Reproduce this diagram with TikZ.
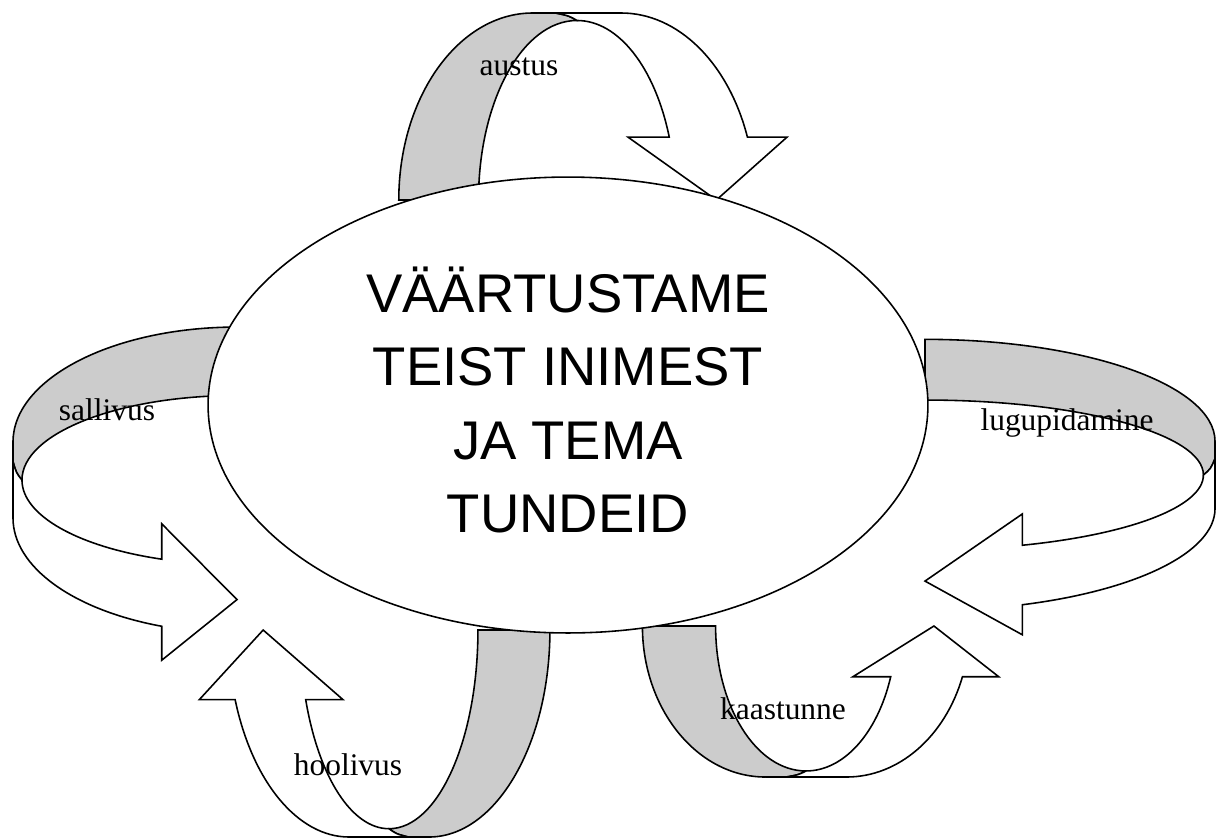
\documentclass[tikz,border=0pt]{standalone}
\usepackage{fontspec}
\setmainfont{Liberation Serif}
\newfontfamily\mottofont{Liberation Sans}
\usetikzlibrary{shapes.geometric}
\definecolor{backgrey}{HTML}{CCCCCC}

% one curved band in its own frame: base on y=0, height 1, half width 1
\newcommand\curvedband{%
  \filldraw[back band] (-1.33,0) arc[start angle=180, end angle=90, x radius=1, y radius=1]
    -- (-0.16,1) .. controls (-0.06,0.985) .. (0,0.96)
    arc[start angle=90, end angle=180, x radius=0.735, y radius=0.96] -- cycle;
  \filldraw[front band] (-0.33,1) -- (0.33,1)
    arc[start angle=90, end angle=19.63, x radius=1, y radius=1]
    -- (1.567,0.336) -- (1.04,0) -- (0.381,0.336) -- (0.6885,0.336)
    arc[start angle=20.49, end angle=90, x radius=0.735, y radius=0.96]
    .. controls (-0.06,0.985) .. (-0.16,1) -- cycle;
}

\tikzset{
  back band/.style = {draw=black, fill=backgrey, line width=0.9pt},
  front band/.style = {draw=black, fill=white, line width=0.9pt},
  hub/.style = {ellipse, draw, fill=white, line width=0.9pt, inner sep=0pt,
    minimum width=14.4cm, minimum height=9.12cm},
  motto/.style = {align=center, inner sep=0pt,
    font=\mottofont\fontsize{31}{41.7}\selectfont},
  bandlabel/.style = {anchor=base, inner sep=0pt, font=\fontsize{17.9}{20}\selectfont}
}

\begin{document}
\begin{tikzpicture}[x=0.02cm, y=-0.02cm]
\useasboundingbox (0,0) rectangle (1226,839);

% the five bands round the centre
\begin{scope}[shift={(577,200)}, xscale=134, yscale=-187] \curvedband \end{scope}
\begin{scope}[shift={(237,480)}, rotate=90, xscale=-115, yscale=-224] \curvedband \end{scope}
\begin{scope}[shift={(925,475)}, rotate=90, xscale=-102, yscale=290] \curvedband \end{scope}
\begin{scope}[shift={(806,626)}, xscale=123, yscale=151] \curvedband \end{scope}
\begin{scope}[shift={(389,630)}, xscale=-121, yscale=207] \curvedband \end{scope}

\node[hub] (centre) at (568,405) {};
\node[motto] (motto) at ([yshift=0.1cm]centre.center) {VÄÄRTUSTAME\\TEIST INIMEST\\JA TEMA\\TUNDEID};

\node[bandlabel] (austus) at (519,75) {austus};
\node[bandlabel] (sallivus) at (107,420) {sallivus};
\node[bandlabel] (lugupidamine) at (1067,430) {lugupidamine};
\node[bandlabel] (kaastunne) at (783,719) {kaastunne};
\node[bandlabel] (hoolivus) at (348,775) {hoolivus};
\end{tikzpicture}
\end{document}
